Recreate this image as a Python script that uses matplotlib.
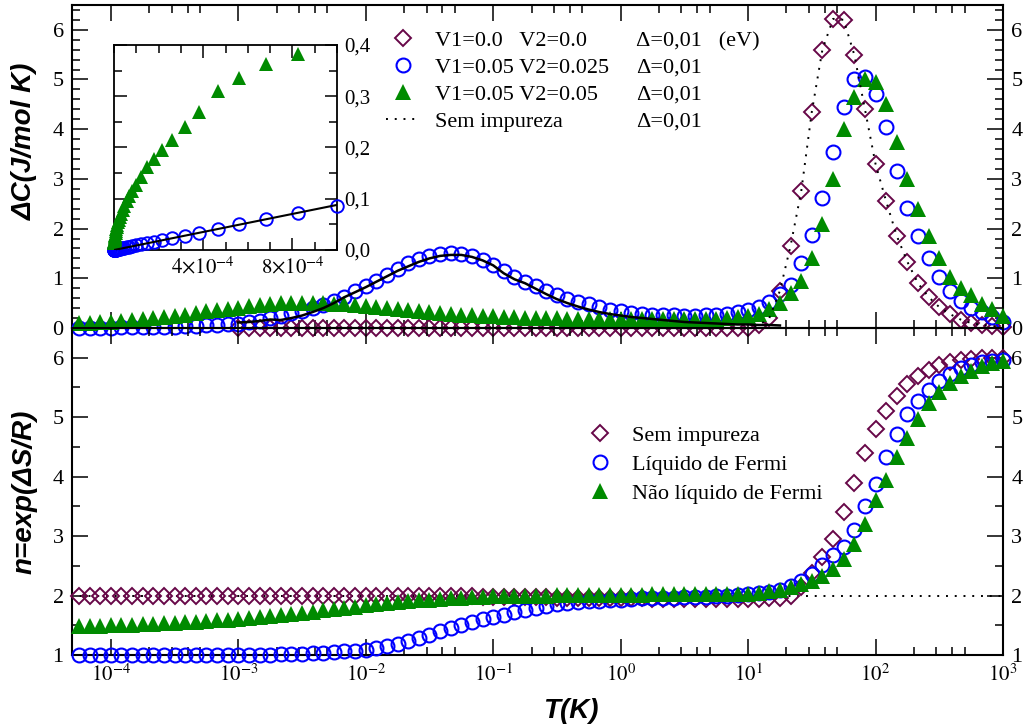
import numpy as np
import matplotlib
matplotlib.use("Agg")
import matplotlib.pyplot as plt
from matplotlib.lines import Line2D
from matplotlib.ticker import FixedLocator, LogLocator, MultipleLocator, FuncFormatter, NullFormatter

# temperature grid, log10(T/K); the upper panel starts lower because of the inset
logT = [-6.0, -5.917, -5.833, -5.75, -5.667, -5.583, -5.5, -5.417, -5.333, -5.25, -5.167, -5.083,
        -5.0, -4.917, -4.833, -4.75, -4.667, -4.583, -4.5, -4.417, -4.333, -4.25, -4.167, -4.083,
        -4.0, -3.917, -3.833, -3.75, -3.667, -3.583, -3.5, -3.417, -3.333, -3.25, -3.167, -3.083,
        -3.0, -2.917, -2.833, -2.75, -2.667, -2.583, -2.5, -2.417, -2.333, -2.25, -2.167, -2.083,
        -2.0, -1.917, -1.833, -1.75, -1.667, -1.583, -1.5, -1.417, -1.333, -1.25, -1.167, -1.083,
        -1.0, -0.917, -0.833, -0.75, -0.667, -0.583, -0.5, -0.417, -0.333, -0.25, -0.167, -0.083,
        0.0, 0.083, 0.167, 0.25, 0.333, 0.417, 0.5, 0.583, 0.667, 0.75, 0.833, 0.917,
        1.0, 1.083, 1.167, 1.25, 1.333, 1.417, 1.5, 1.583, 1.667, 1.75, 1.833, 1.917,
        2.0, 2.083, 2.167, 2.25, 2.333, 2.417, 2.5, 2.583, 2.667, 2.75, 2.833, 2.917, 3.0]

# Delta C (J/mol K), V1=0.05 V2=0.025 (Fermi liquid), whole grid
C_fermi = [0.0, 0.0, 0.0, 0.0, 0.0, 0.0, 0.0, 0.0, 0.0, 0.0, 0.0, 0.0,
           0.001, 0.001, 0.001, 0.002, 0.002, 0.002, 0.003, 0.003, 0.004, 0.005, 0.006, 0.007,
           0.009, 0.011, 0.013, 0.016, 0.019, 0.023, 0.028, 0.034, 0.041, 0.050, 0.060, 0.073,
           0.086, 0.12, 0.15, 0.20, 0.25, 0.30, 0.35, 0.40, 0.47, 0.55, 0.63, 0.74,
           0.85, 0.95, 1.07, 1.19, 1.30, 1.39, 1.45, 1.49, 1.50, 1.48, 1.44, 1.36,
           1.26, 1.15, 1.03, 0.93, 0.84, 0.74, 0.66, 0.58, 0.52, 0.48, 0.42, 0.37,
           0.34, 0.31, 0.29, 0.27, 0.26, 0.26, 0.25, 0.24, 0.26, 0.27, 0.29, 0.33,
           0.37, 0.43, 0.53, 0.68, 0.86, 1.30, 1.87, 2.62, 3.55, 4.45, 5.00, 5.05,
           4.70, 4.05, 3.15, 2.42, 1.85, 1.40, 1.03, 0.75, 0.55, 0.41, 0.32, 0.23, 0.13]

# Delta C, V1=0.05 V2=0.05 (non Fermi liquid), whole grid
C_nfl = [0.013, 0.014, 0.016, 0.017, 0.019, 0.021, 0.023, 0.025, 0.028, 0.030, 0.033, 0.037,
         0.040, 0.044, 0.049, 0.054, 0.059, 0.065, 0.071, 0.078, 0.086, 0.095, 0.105, 0.115,
         0.127, 0.143, 0.161, 0.178, 0.195, 0.215, 0.24, 0.27, 0.31, 0.335, 0.362, 0.382,
         0.41, 0.45, 0.47, 0.49, 0.50, 0.51, 0.51, 0.51, 0.50, 0.49, 0.48, 0.46,
         0.45, 0.43, 0.41, 0.39, 0.37, 0.35, 0.33, 0.31, 0.29, 0.27, 0.26, 0.25,
         0.24, 0.23, 0.22, 0.21, 0.21, 0.20, 0.20, 0.19, 0.19, 0.19, 0.19, 0.19,
         0.19, 0.19, 0.19, 0.19, 0.19, 0.19, 0.19, 0.19, 0.19, 0.19, 0.20, 0.22,
         0.24, 0.28, 0.38, 0.50, 0.70, 0.95, 1.40, 2.10, 3.00, 4.00, 4.65, 5.00,
         4.95, 4.50, 3.75, 3.00, 2.40, 1.85, 1.40, 1.02, 0.80, 0.67, 0.48, 0.38, 0.25]

# Delta C, V1=0 V2=0, from T = 1e-3 K
C_clean = [0.0, 0.0, 0.0, 0.0, 0.0, 0.0, 0.0, 0.0, 0.0, 0.0, 0.0, 0.0,
           0.0, 0.0, 0.0, 0.0, 0.0, 0.0, 0.0, 0.0, 0.0, 0.0, 0.0, 0.0,
           0.0, 0.0, 0.0, 0.0, 0.0, 0.0, 0.0, 0.0, 0.0, 0.0, 0.0, 0.0,
           0.0, 0.0, 0.0, 0.0, 0.0, 0.0, 0.0, 0.0, 0.0, 0.0, 0.0, 0.0,
           0.0, 0.05, 0.20, 0.75, 1.65, 2.75, 4.35, 5.60, 6.22, 6.20, 5.50, 4.40,
           3.30, 2.55, 1.85, 1.33, 0.90, 0.62, 0.42, 0.28, 0.17, 0.10, 0.06, 0.04, 0.02]

# solid curve through the Fermi-liquid points, T = 1e-3 ... 10^1.25 K
C_fit = [0.11, 0.12, 0.14, 0.17, 0.16, 0.20, 0.25, 0.32, 0.40, 0.50, 0.62, 0.72,
         0.82, 0.93, 1.04, 1.15, 1.24, 1.33, 1.40, 1.45, 1.47, 1.47, 1.43, 1.36,
         1.26, 1.10, 0.98, 0.90, 0.79, 0.68, 0.58, 0.50, 0.43, 0.37, 0.32, 0.28,
         0.25, 0.22, 0.20, 0.18, 0.16, 0.14, 0.12, 0.11, 0.10, 0.09, 0.08, 0.07,
         0.07, 0.06, 0.06, 0.05]

# n = exp(Delta S / R), from T = 10^-4.25 K
n_clean = [2.0, 2.0, 2.0, 2.0, 2.0, 2.0, 2.0, 2.0, 2.0, 2.0, 2.0, 2.0,
           2.0, 2.0, 2.0, 2.0, 2.0, 2.0, 2.0, 2.0, 2.0, 2.0, 2.0, 2.0,
           2.0, 2.0, 2.0, 2.0, 2.0, 2.0, 2.0, 2.0, 1.99, 1.99, 1.99, 1.99,
           1.99, 1.99, 1.98, 1.98, 1.98, 1.98, 1.97, 1.97, 1.97, 1.96, 1.96, 1.96,
           1.96, 1.95, 1.95, 1.95, 1.95, 1.95, 1.94, 1.94, 1.94, 1.94, 1.94, 1.94,
           1.94, 1.94, 1.94, 1.94, 1.94, 1.95, 1.96, 2.0, 2.15, 2.38, 2.65, 2.95,
           3.40, 3.90, 4.40, 4.80, 5.10, 5.35, 5.55, 5.70, 5.80, 5.87, 5.92, 5.96,
           5.98, 5.99, 6.0, 6.0]
n_fermi = [1.0, 1.0, 1.0, 1.0, 1.0, 1.0, 1.0, 1.0, 1.0, 1.0, 1.0, 1.0,
           1.0, 1.0, 1.0, 1.0, 1.0, 1.0, 1.0, 1.01, 1.02, 1.02, 1.03, 1.04,
           1.05, 1.06, 1.07, 1.09, 1.12, 1.15, 1.19, 1.24, 1.29, 1.34, 1.40, 1.45,
           1.50, 1.55, 1.60, 1.64, 1.68, 1.72, 1.76, 1.79, 1.82, 1.85, 1.87, 1.89,
           1.90, 1.91, 1.92, 1.93, 1.94, 1.95, 1.95, 1.96, 1.96, 1.97, 1.97, 1.98,
           1.99, 2.0, 2.01, 2.02, 2.04, 2.06, 2.10, 2.16, 2.25, 2.37, 2.52, 2.68,
           2.82, 3.10, 3.50, 3.88, 4.33, 4.72, 5.05, 5.27, 5.45, 5.60, 5.73, 5.82,
           5.88, 5.92, 5.95, 5.96]
n_nfl = [1.48, 1.49, 1.49, 1.50, 1.50, 1.51, 1.52, 1.52, 1.53, 1.54, 1.55, 1.56,
         1.57, 1.58, 1.59, 1.61, 1.62, 1.64, 1.65, 1.67, 1.69, 1.71, 1.73, 1.75,
         1.77, 1.79, 1.81, 1.84, 1.86, 1.87, 1.89, 1.90, 1.92, 1.93, 1.94, 1.95,
         1.96, 1.97, 1.98, 1.99, 1.99, 2.0, 2.0, 2.0, 2.0, 2.01, 2.01, 2.01,
         2.01, 2.01, 2.01, 2.01, 2.01, 2.01, 2.02, 2.02, 2.02, 2.02, 2.02, 2.02,
         2.03, 2.03, 2.03, 2.03, 2.05, 2.07, 2.10, 2.14, 2.20, 2.25, 2.33, 2.45,
         2.62, 2.87, 3.20, 3.60, 3.95, 4.33, 4.65, 4.97, 5.23, 5.42, 5.58, 5.70,
         5.78, 5.86, 5.91, 5.95]
n_ref_T = [4.9e-5, 1.0e3]
n_ref = [2.0, 2.0]

# inset straight line (linear in T)
inset_line_T = [0.0, 1.0e-3]
inset_line_C = [0.0, 0.088]

maroon = '#670748'
blue = '#0000ff'
green = '#008b00'

plt.rcParams.update({'font.family': 'Liberation Serif',
                     'mathtext.fontset': 'stix',
                     'axes.linewidth': 1.5,
                     'xtick.direction': 'in',
                     'ytick.direction': 'in'})

T = 10 ** np.array(logT)
C_fermi = np.array(C_fermi)
C_nfl = np.array(C_nfl)
T_clean = T[36:]
T_fit = T[36:88]
T_lo = T[21:]
vis = np.array(logT) >= -4.3

fig = plt.figure(figsize=(10.34, 7.28), dpi=100)
ax1 = fig.add_axes([0.0696, 0.5495, 0.9004, 0.4437])
ax2 = fig.add_axes([0.0696, 0.1003, 0.9004, 0.4492])
ax2.patch.set_visible(False)

lab_font = dict(family='Liberation Sans', weight='bold', style='italic', size=20)
dia = dict(ls='none', marker='D', ms=8.5, mfc='none', mec=maroon, mew=1.4, clip_on=False, zorder=3)
circ = dict(ls='none', marker='o', ms=10, mfc='none', mec=blue, mew=1.5, clip_on=False, zorder=4)
tri = dict(ls='none', marker='^', ms=11, color=green, mew=0, clip_on=False, zorder=5)

# ---- upper panel: specific heat
h1, = ax1.plot(T_clean, C_clean, **dia)
h2, = ax1.plot(T[vis], C_fermi[vis], **circ)
h3, = ax1.plot(T[vis], C_nfl[vis], **tri)
ax1.plot(T_fit, C_fit, color='black', lw=1.8, zorder=6)
h4, = ax1.plot(T_clean, C_clean, color='black', ls=(0, (1, 3.5)), lw=1.4, zorder=6)

ax1.set_ylim(0, 6.5)
ax1.set_ylabel('ΔC(J/mol K)', **lab_font)
ax1.yaxis.set_label_coords(-0.0365, 0.579)

blank = Line2D([], [], ls='none')
ax1.legend([h1, h2, h3, h4, blank, blank, blank, blank],
           ['V1=0.0   V2=0.0', 'V1=0.05 V2=0.025', 'V1=0.05 V2=0.05', 'Sem impureza',
            'Δ=0,01   (eV)', 'Δ=0,01', 'Δ=0,01', 'Δ=0,01'],
           ncol=2, loc='upper left', bbox_to_anchor=(0.3378, 0.921), frameon=False,
           borderpad=0, borderaxespad=0, handlelength=1.5, handletextpad=0.7,
           labelspacing=0.29, columnspacing=-1.0, fontsize=16)

# ---- lower panel: n = exp(dS/R)
ax2.plot(n_ref_T, n_ref, color='black', ls=(0, (1, 3.5)), lw=1.4, zorder=2)
g1, = ax2.plot(T_lo, n_clean, **dia)
g2, = ax2.plot(T_lo, n_fermi, **circ)
g3, = ax2.plot(T_lo, n_nfl, **tri)
ax2.set_ylim(1, 6.5)
ax2.set_ylabel('n=exp(ΔS/R)', **lab_font)
ax2.yaxis.set_label_coords(-0.0365, 0.5)
ax2.set_xlabel('T(K)', **lab_font)
ax2.xaxis.set_label_coords(0.536, -0.1315)
ax2.legend([g1, g2, g3], ['Sem impureza', 'Líquido de Fermi', 'Não líquido de Fermi'],
           loc='upper left', bbox_to_anchor=(0.549, 0.702), frameon=False,
           borderpad=0, borderaxespad=0, handlelength=1.5, handletextpad=0.7,
           labelspacing=0.38, fontsize=16)

xt = [-4, -3, -2, -1, 0, 1, 2, 3]
for ax in (ax1, ax2):
    ax.set_xscale('log')
    ax.set_xlim(10 ** -4.305, 1.0e3)
    ax.xaxis.set_major_locator(FixedLocator([10.0 ** e for e in xt]))
    ax.xaxis.set_minor_locator(LogLocator(base=10, subs=(2, 3, 4, 5), numticks=30))
    ax.xaxis.set_minor_formatter(NullFormatter())
    ax.tick_params(which='major', length=11.5, width=1.1, top=True, right=True,
                   labelright=True, labelsize=16, pad=6)
    ax.tick_params(which='minor', length=5.8, width=1.1, top=True, right=True)
    ax.tick_params(axis='x', labelsize=15, pad=7)

ax1.tick_params(axis='x', labelbottom=False)
ax2.xaxis.set_major_formatter(FuncFormatter(lambda v, p: r'$10^{%d}$' % round(np.log10(v))))
ax1.yaxis.set_major_locator(MultipleLocator(1))
ax1.yaxis.set_minor_locator(MultipleLocator(0.2))
ax2.yaxis.set_major_locator(MultipleLocator(1))
ax2.yaxis.set_minor_locator(MultipleLocator(0.5))

# ---- inset: low-T specific heat on linear scale
axi = fig.add_axes([0.1103, 0.6566, 0.2157, 0.2816])
axi.plot(T[:37], C_fermi[:37], ls='none', marker='o', ms=9, mfc='none', mec=blue, mew=1.4,
         clip_on=False, zorder=3)
axi.plot(T[:36], C_nfl[:36], ls='none', marker='^', ms=10.5, color=green, mew=0,
         clip_on=False, zorder=4)
axi.plot(inset_line_T, inset_line_C, color='black', lw=1.5, zorder=5)
axi.set_xlim(0, 1.0e-3)
axi.set_ylim(0, 0.4)
axi.xaxis.set_major_locator(FixedLocator([4e-4, 8e-4]))
axi.xaxis.set_minor_locator(MultipleLocator(1e-4))
axi.xaxis.set_major_formatter(FuncFormatter(lambda v, p: r'$%d{\times}10^{-4}$' % round(v * 1e4)))
axi.yaxis.set_major_locator(MultipleLocator(0.1))
axi.yaxis.set_minor_locator(MultipleLocator(0.05))
axi.yaxis.set_major_formatter(FuncFormatter(lambda v, p: ('%.1f' % v).replace('.', ',')))
axi.tick_params(which='both', top=True, right=True, labelleft=False, labelright=True,
                width=1.1, labelsize=15)
axi.tick_params(which='major', length=9, pad=5)
axi.tick_params(which='minor', length=6)
for s in axi.spines.values():
    s.set_linewidth(1.3)

fig.savefig('out.png', dpi=100)
